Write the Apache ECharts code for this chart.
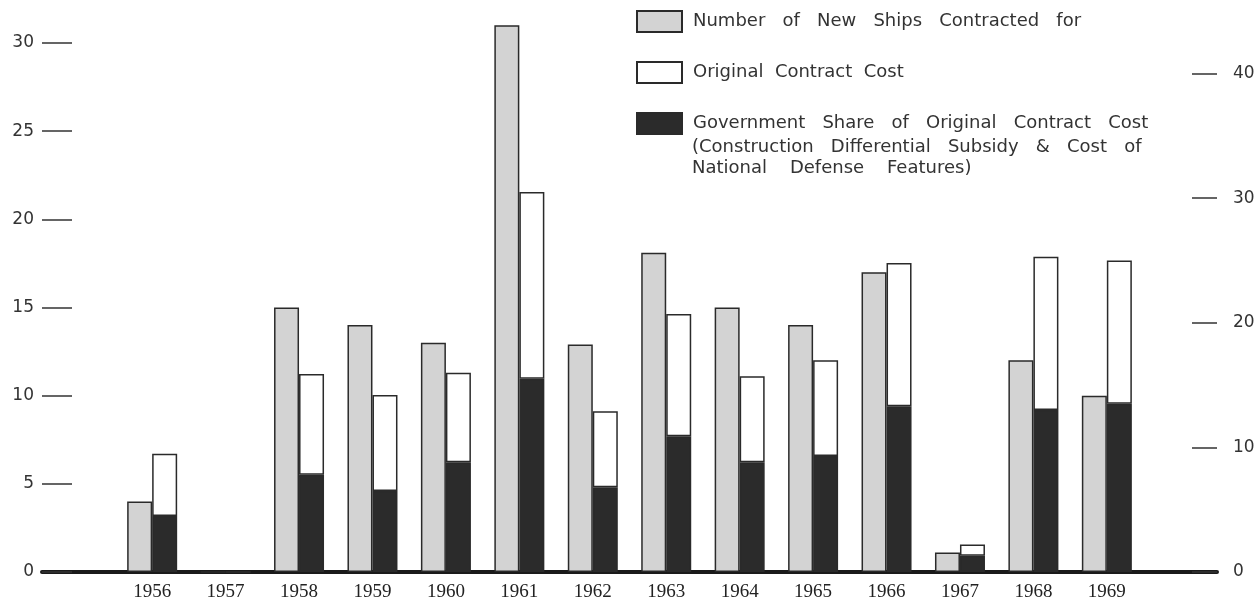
<!DOCTYPE html>
<html>
  <head>
    <meta charset="utf-8" />
    <title>New Ships Contracted</title>
    <script src="https://cdn.jsdelivr.net/npm/echarts@6/dist/echarts.min.js"></script>
    <style>
      html, body { margin: 0; padding: 0; background: #fff; }
      #chart { width: 1260px; height: 602px; }
    </style>
  </head>
  <body>
    <div id="chart"></div>
    <script type="text/javascript">
      // data
      var years = ["1956", "1957", "1958", "1959", "1960", "1961", "1962",
                   "1963", "1964", "1965", "1966", "1967", "1968", "1969"];
      var shipCounts = [4, 0, 15, 14, 13, 31, 12.9, 18.1, 15, 14, 17, 1.1, 12, 10];
      var contractCost = [9.5, 0, 15.9, 14.2, 16, 30.5, 12.9, 20.7, 15.7, 17, 24.8, 2.2, 25.3, 25];
      var govShare = [4.5, 0, 7.8, 6.5, 8.8, 15.5, 6.8, 10.9, 8.8, 9.3, 13.3, 1.3, 13, 13.5];
      var leftTicks = [0, 5, 10, 15, 20, 25, 30];
      var rightTicks = [0, 10, 20, 30, 40];

      var names = [
        "Number   of   New   Ships   Contracted   for",
        "Original  Contract  Cost",
        "Government   Share   of   Original   Contract   Cost"
      ];
      var extraLines = "(Construction   Differential   Subsidy   &   Cost   of\nNational    Defense    Features)";

      // one empty slot at each end so the baseline runs past the bars
      function pad(arr) { return [null].concat(arr, [null]); }
      var cats = [""].concat(years, [""]);
      // white part sits on top of the black share
      var costRest = contractCost.map(function (v, i) { return v - govShare[i]; });

      var border = "#2a2a2a";
      var font = "DejaVu Sans";

      var myChart = echarts.init(document.getElementById("chart"));
      var option = {
        animation: false,
        backgroundColor: "#fff",
        // top of grid sits above the 30 tick so the 1961 bar fits
        grid: { left: 42, right: 43, top: 20, bottom: 28 },
        legend: {
          orient: "vertical",
          left: 636,
          top: 10,
          padding: 0,
          icon: "rect",
          itemWidth: 45,
          itemHeight: 21,
          itemGap: 28,
          selectedMode: false,
          data: names,
          textStyle: { fontFamily: font, fontSize: 18, color: "#333", lineHeight: 21, padding: [0, 0, 0, 6] }
        },
        graphic: [{
          type: "text",
          left: 692,
          top: 137,
          style: { text: extraLines, font: "18px " + font, fill: "#333", lineHeight: 21 }
        }],
        xAxis: {
          type: "category",
          data: cats,
          axisLine: { lineStyle: { color: "#1a1a1a", width: 4 } },
          axisTick: { show: false },
          axisLabel: { fontFamily: "Liberation Serif", fontSize: 19, color: "#222", margin: 11, interval: 0 }
        },
        yAxis: [
          {
            type: "value",
            min: 0,
            max: 31.3,
            splitLine: { show: false },
            axisLine: { show: false },
            axisTick: { show: true, inside: true, length: 30, customValues: leftTicks, lineStyle: { color: "#333", width: 1.5 } },
            axisLabel: { fontFamily: font, fontSize: 17, color: "#333", margin: 8, customValues: leftTicks }
          },
          {
            type: "value",
            min: 0,
            max: 44.3,
            splitLine: { show: false },
            axisLine: { show: false },
            axisTick: { show: true, inside: true, length: 25, customValues: rightTicks, lineStyle: { color: "#333", width: 1.5 } },
            axisLabel: { fontFamily: font, fontSize: 17, color: "#333", margin: 16, customValues: rightTicks }
          }
        ],
        series: [
          {
            name: names[0],
            type: "bar",
            yAxisIndex: 0,
            barWidth: 25,
            barGap: "0%",
            data: pad(shipCounts),
            itemStyle: { color: "#d3d3d3", borderColor: border, borderWidth: 1.5 }
          },
          {
            name: names[2],
            type: "bar",
            yAxisIndex: 1,
            stack: "cost",
            barWidth: 25,
            data: pad(govShare),
            itemStyle: { color: "#2b2b2b", borderColor: border, borderWidth: 1.5 }
          },
          {
            name: names[1],
            type: "bar",
            yAxisIndex: 1,
            stack: "cost",
            barWidth: 25,
            data: pad(costRest),
            itemStyle: { color: "#ffffff", borderColor: border, borderWidth: 1.5 }
          }
        ]
      };
      myChart.setOption(option);
    </script>
  </body>
</html>
